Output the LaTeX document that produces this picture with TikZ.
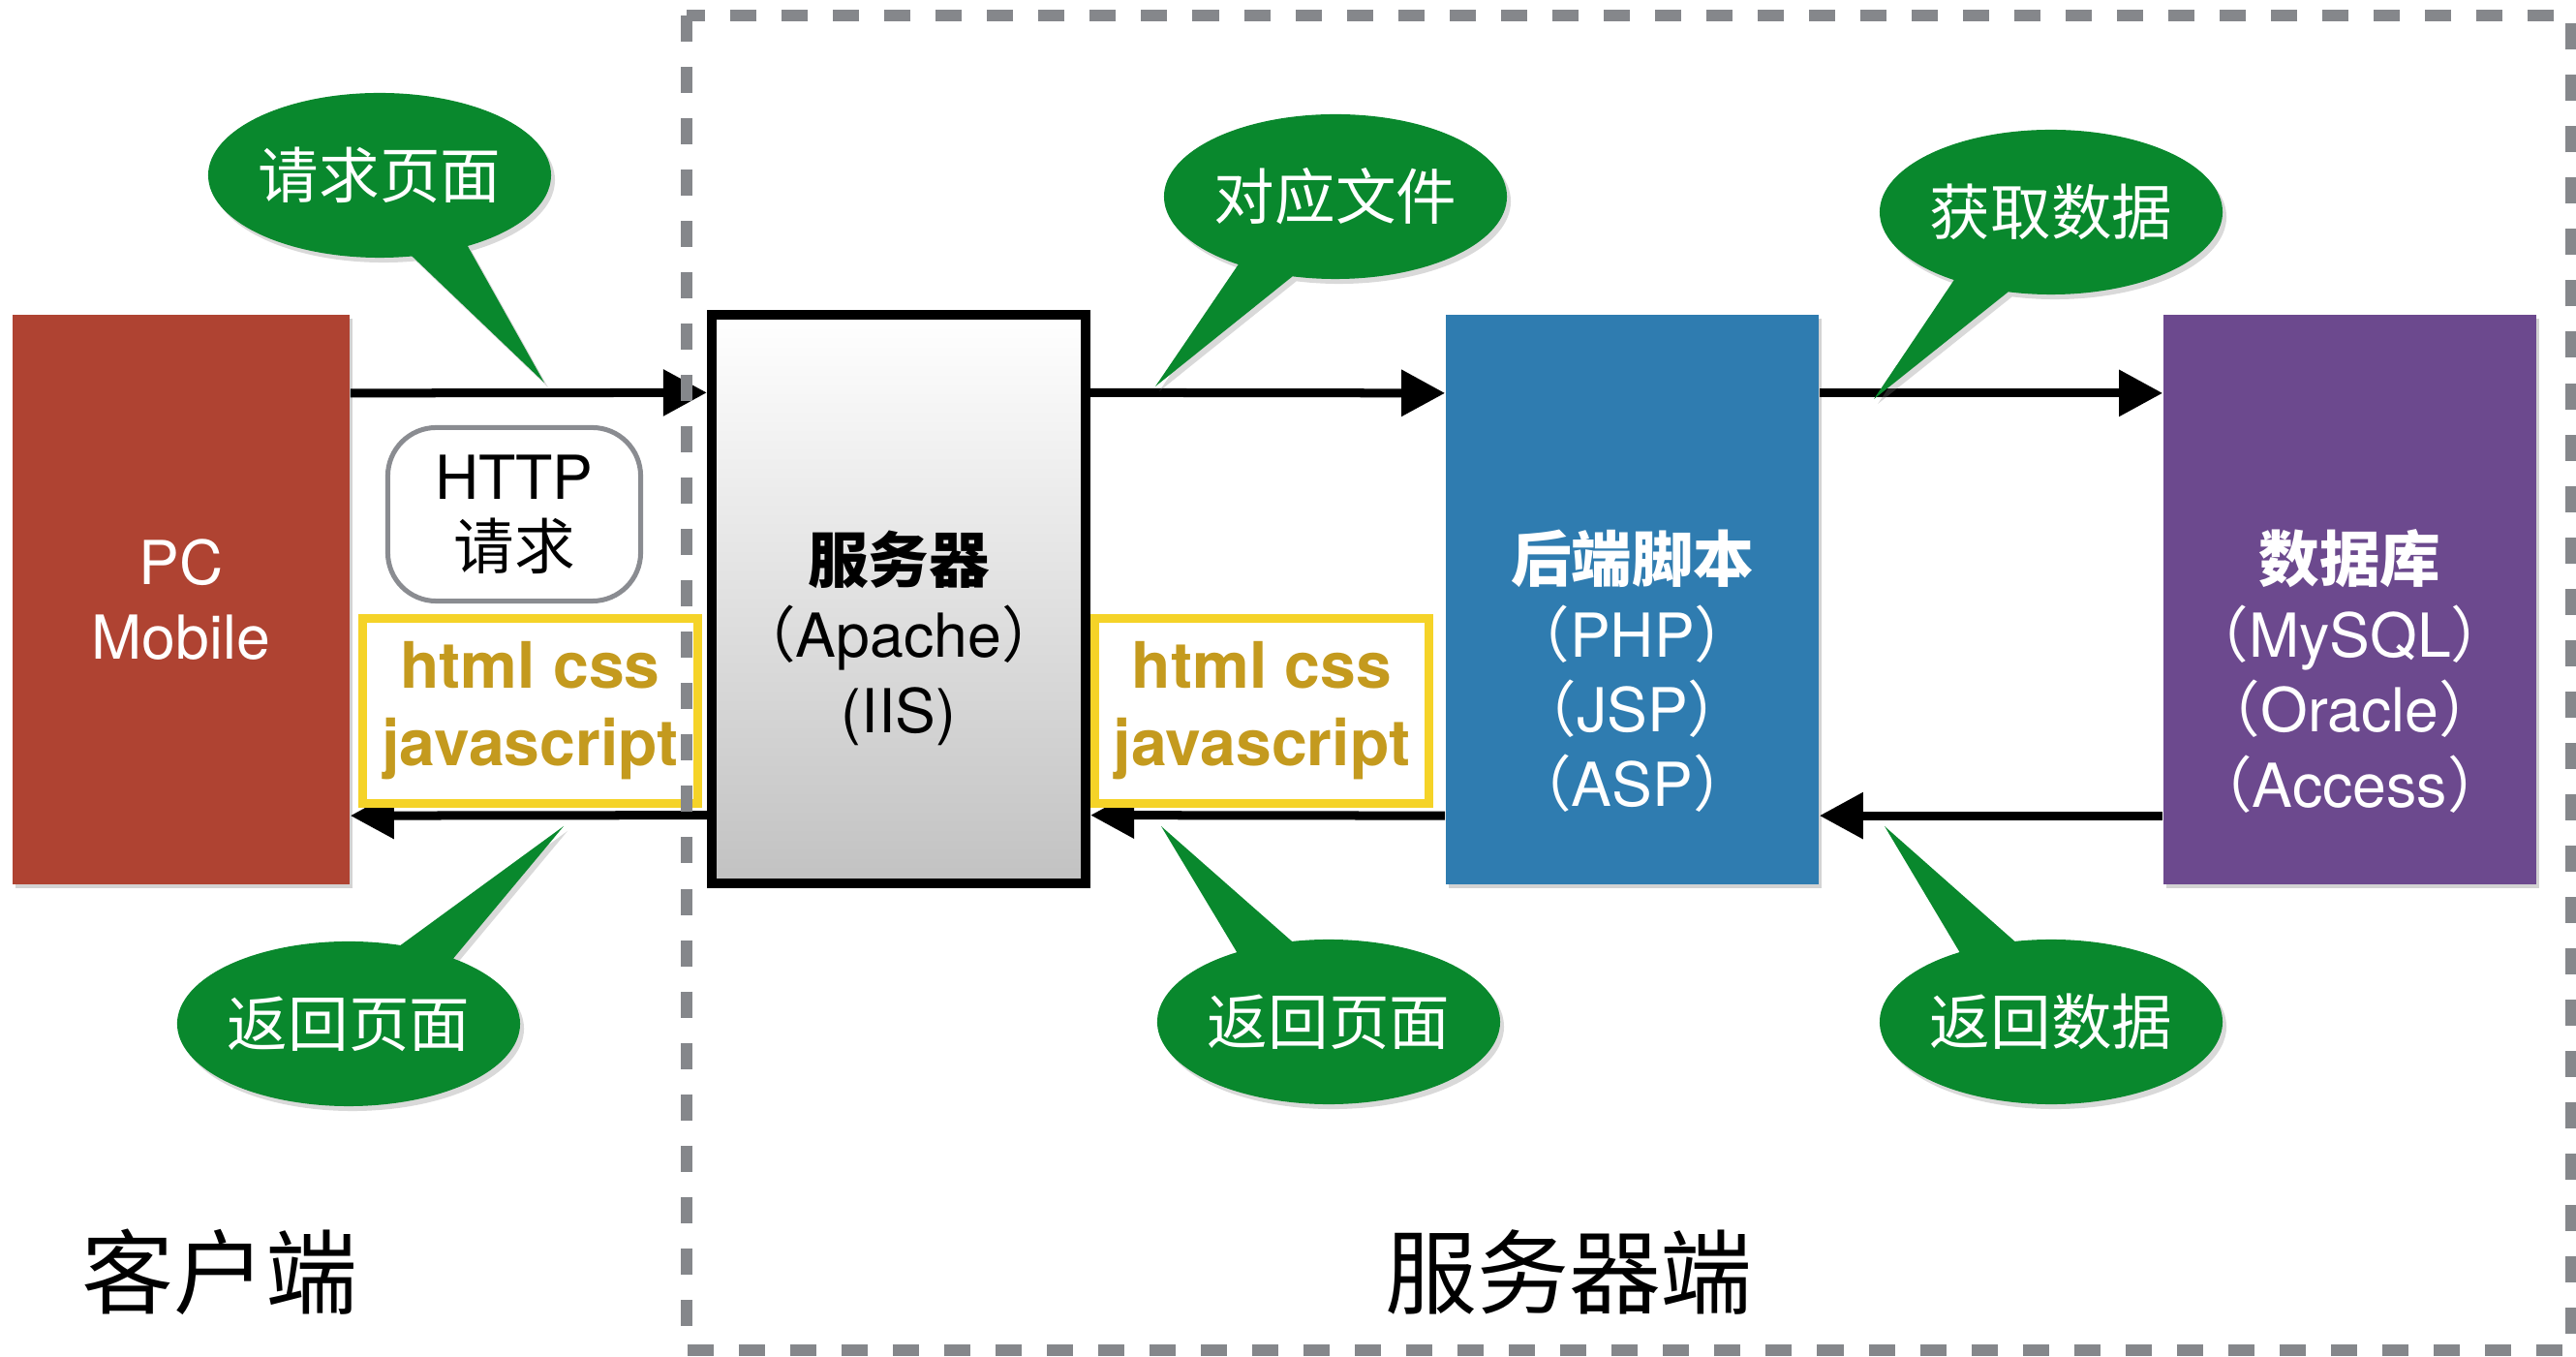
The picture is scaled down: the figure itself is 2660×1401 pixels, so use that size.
\documentclass[tikz,border=0pt]{standalone}
\usepackage{fontspec}
\setmainfont{TeX Gyre Heros}
\newfontfamily\cjk{Noto Sans CJK SC}
\usepackage{tikz}
\usetikzlibrary{arrows.meta, positioning, shapes.callouts, shadows}

\definecolor{pcred}{RGB}{175,67,50}
\definecolor{scriptblue}{RGB}{47,124,176}
\definecolor{dbpurple}{RGB}{108,73,142}
\definecolor{bubblegreen}{RGB}{9,136,45}
\definecolor{codeyellow}{RGB}{245,211,40}
\definecolor{codegold}{RGB}{196,154,30}
\definecolor{framegray}{RGB}{133,135,139}
\definecolor{httpgray}{RGB}{138,140,145}

\newcommand{\fwlp}{{\cjk （}}
\newcommand{\fwrp}{{\cjk ）}}

\begin{document}
\begin{tikzpicture}[x=0.01cm, y=-0.01cm,
                block/.style={minimum width=3.85cm, minimum height=5.88cm, inner sep=0pt,
                              drop shadow={shadow xshift=0.03cm, shadow yshift=-0.04cm, opacity=0.35}},
                blocktext/.style={align=center, font=\fontsize{17.8}{22}\selectfont},
                flow/.style={-{Triangle[length=0.45cm, width=0.46cm]}, line width=0.09cm},
                codebox/.style={draw=codeyellow, line width=0.09cm, fill=white, minimum width=3.45cm,
                                minimum height=1.90cm, inner sep=0pt, align=center, text=codegold,
                                font=\bfseries\fontsize{18.8}{22.8}\selectfont},
                bubble/.style={ellipse callout, fill=bubblegreen, text=white, minimum width=3.47cm,
                               minimum height=1.70cm, inner sep=0pt, callout pointer arc=20,
                               font=\cjk\fontsize{17.8}{22}\selectfont,
                               drop shadow={shadow xshift=0.04cm, shadow yshift=-0.05cm, opacity=0.3}},
                sidelabel/.style={font=\cjk\fontsize{27}{32}\selectfont}]

                \useasboundingbox (0,0) rectangle (2660,1401);

                % Blocks - client, web server, scripts, database
                \node[block, fill=pcred, minimum width=3.48cm, blocktext, text=white] (pc) at (187,619) {PC\\Mobile};
                \node[block, draw=black, line width=0.1cm, top color=white, bottom color=black!24,
                      minimum width=3.86cm, minimum height=5.87cm] (server) at (928,618.5) {};
                \node[blocktext] (servertxt) at ([yshift=-0.40cm]server.center)
                    {{\cjk\bfseries 服务器}\\\fwlp Apache\fwrp\\(IIS)};
                \node[block, fill=scriptblue] (backend) at (1685.5,619) {};
                \node[blocktext, text=white] (backendtxt) at ([yshift=-0.74cm]backend.center)
                    {{\cjk\bfseries 后端脚本}\\\fwlp PHP\fwrp\\\fwlp JSP\fwrp\\\fwlp ASP\fwrp};
                \node[block, fill=dbpurple] (db) at (2426.5,619) {};
                \node[blocktext, text=white] (dbtxt) at ([yshift=-0.74cm]db.center)
                    {{\cjk\bfseries 数据库}\\\fwlp MySQL\fwrp\\\fwlp Oracle\fwrp\\\fwlp Access\fwrp};

                % Request arrows (top) and response arrows (bottom)
                \draw[flow] ([yshift=2.13cm]pc.east) -- ([yshift=2.13cm]server.west);
                \draw[flow] ([yshift=2.13cm]server.east) -- ([yshift=2.13cm]backend.west);
                \draw[flow] ([yshift=2.13cm]backend.east) -- ([yshift=2.13cm]db.west);
                \draw[flow] ([yshift=-2.23cm]server.west) -- ([yshift=-2.23cm]pc.east);
                \draw[flow] ([yshift=-2.23cm]backend.west) -- ([yshift=-2.23cm]server.east);
                \draw[flow] ([yshift=-2.23cm]db.west) -- ([yshift=-2.23cm]backend.east);

                % HTTP request and returned code
                \node[draw=httpgray, line width=0.05cm, rounded corners=0.5cm, fill=white,
                      minimum width=2.61cm, minimum height=1.79cm, align=center,
                      font=\fontsize{17.8}{20.5}\selectfont] (http) at (531,531) {HTTP\\{\cjk 请求}};
                \node[codebox] (clientcode) at (547.5,734) {html css\\javascript};
                \node[codebox] (servercode) at (1303,734) {html css\\javascript};

                % Callouts
                \coordinate (askpagetip) at (562,395);
                \coordinate (filetip) at (1193,399);
                \coordinate (fetchtip) at (1935,412);
                \coordinate (pagebacktip) at (582,853);
                \coordinate (filebacktip) at (1199,853);
                \coordinate (databacktip) at (1946,853);
                \node[bubble, callout absolute pointer={(askpagetip)}] (askpage) at (392,181) {请求页面};
                \node[bubble, callout absolute pointer={(filetip)}] (matchfile) at (1379,203) {对应文件};
                \node[bubble, callout absolute pointer={(fetchtip)}] (fetchdata) at (2118,219) {获取数据};
                \node[bubble, callout absolute pointer={(pagebacktip)}] (pageback) at (360,1057) {返回页面};
                \node[bubble, callout absolute pointer={(filebacktip)}] (fileback) at (1372,1055) {返回页面};
                \node[bubble, callout absolute pointer={(databacktip)}] (databack) at (2118,1055) {返回数据};

                % Sides
                \node[sidelabel] (client) at (227,1313) {客户端};
                \node[sidelabel] (serverside) at (1620,1313) {服务器端};
                \draw[framegray, line width=0.12cm, dash pattern=on 0.27cm off 0.26cm] (709,16) rectangle (2655,1394);
            \end{tikzpicture}
\end{document}
